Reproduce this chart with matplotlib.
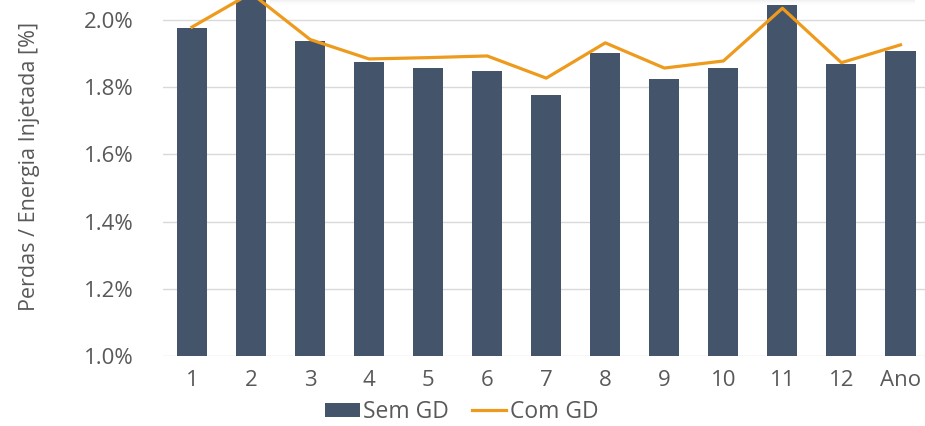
import matplotlib
matplotlib.use("Agg")
import matplotlib.pyplot as plt
from matplotlib.patches import Rectangle
from matplotlib.lines import Line2D
import numpy as np

categories = ["1", "2", "3", "4", "5", "6", "7", "8", "9", "10", "11", "12", "Ano"]
sem_gd = [1.976, 2.090, 1.937, 1.875, 1.857, 1.849, 1.777, 1.902, 1.824, 1.857, 2.046, 1.869, 1.908]
com_gd = [1.979, 2.080, 1.942, 1.884, 1.888, 1.893, 1.827, 1.932, 1.857, 1.878, 2.035, 1.873, 1.926]
y_ticks = [1.0, 1.2, 1.4, 1.6, 1.8, 2.0]

BAR_COLOR = "#44546A"
LINE_COLOR = "#EE9A1C"
TEXT_COLOR = "#595959"
GRID_COLOR = "#D9D9D9"
FONT = ["Open Sans", "DejaVu Sans"]

W, H = 925, 426
fig = plt.figure(figsize=(W / 100, H / 100), dpi=100)
fig.patch.set_facecolor("white")

# faint shadow of the box sitting above the plot
for i, a in enumerate([0.10, 0.07, 0.045, 0.025, 0.012]):
    fig.patches.append(Rectangle((270 / W, 1 - (i + 1) / H), (915 - 270) / W, 1 / H,
                                 transform=fig.transFigure, facecolor="#808080",
                                 alpha=a, edgecolor="none", zorder=0))

ax = fig.add_axes([162.5 / W, (H - 356) / H, (930 - 162.5) / W, 356 / H])
ax.set_facecolor("none")

x = np.arange(len(categories))
ax.bar(x, sem_gd, width=0.51, color=BAR_COLOR, zorder=2)
ax.plot(x, com_gd, color=LINE_COLOR, linewidth=2.3, zorder=3, solid_joinstyle="round")

ax.set_xlim(-0.5, len(categories) - 0.5)
ax.set_ylim(1.0, 2.0595)
ax.set_yticks(y_ticks)
ax.set_yticklabels([f"{v:.1f}%" for v in y_ticks])
ax.set_xticks(x)
ax.set_xticklabels(categories)
ax.yaxis.grid(True, color=GRID_COLOR, linewidth=1.0, zorder=0)
ax.set_axisbelow(True)
for s in ax.spines.values():
    s.set_visible(False)
ax.tick_params(axis="both", length=0, colors=TEXT_COLOR, labelsize=16)
ax.tick_params(axis="y", pad=21)
ax.tick_params(axis="x", pad=10)
for lbl in ax.get_xticklabels() + ax.get_yticklabels():
    lbl.set_fontfamily(FONT)

fig.text(30 / W, 1 - 166 / H, "Perdas / Energia Injetada [%]", rotation=90,
         ha="center", va="center", color=TEXT_COLOR, fontsize=15.5,
         family=["Liberation Sans Narrow", "Open Sans", "DejaVu Sans"])

handles = [Rectangle((0, 0), 1, 1, facecolor=BAR_COLOR, edgecolor="none"),
           Line2D([0], [0], color=LINE_COLOR, linewidth=2.3)]
leg = fig.legend(handles, ["Sem GD", "Com GD"], loc="center",
                 bbox_to_anchor=(462 / W, 1 - 412 / H), ncol=2, frameon=False,
                 handlelength=1.5, handleheight=0.6, handletextpad=0.15, columnspacing=1.0,
                 prop={"family": FONT, "size": 16.5})
for t in leg.get_texts():
    t.set_color(TEXT_COLOR)

fig.savefig("out.png", dpi=100, facecolor="white")
